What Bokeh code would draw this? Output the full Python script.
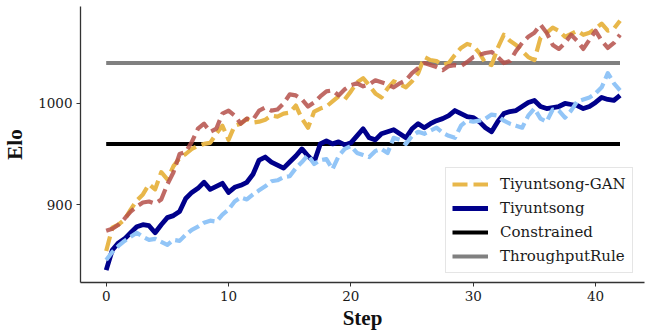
import numpy as np
from bokeh.plotting import figure
from bokeh.models import Range1d, FixedTicker, Legend, LegendItem
from bokeh.embed import file_html
from bokeh.resources import INLINE

# ---------------- data ----------------
steps = np.arange(0, 42.5, 0.5)

tiyuntsong_gan = [
    854, 877, 880, 885, 895, 904, 910, 920, 915, 932,
    925, 938, 946, 950, 955, 958, 960, 961, 970, 978,
    964, 978, 980, 985, 981, 982, 984, 988, 987, 990,
    991, 998, 985, 976, 992, 995, 997, 1002, 1007, 1004,
    1012, 1021, 1025, 1018, 1010, 1006, 1015, 1022, 1019, 1016,
    1022, 1030, 1046, 1043, 1042, 1038, 1040, 1048, 1055, 1059,
    1057, 1050, 1040, 1038, 1055, 1068, 1062, 1058, 1052, 1046,
    1043, 1065, 1070, 1075, 1072, 1066, 1069, 1072, 1068, 1070,
    1074, 1079, 1072, 1074, 1082]

tiyuntsong = [
    835, 855, 862, 866, 872, 878, 880, 879, 872, 880,
    887, 889, 893, 906, 912, 916, 922, 915, 918, 921,
    912, 917, 919, 922, 930, 944, 947, 942, 939, 936,
    942, 948, 955, 948, 942, 960, 963, 960, 962, 959,
    961, 968, 975, 966, 964, 970, 972, 974, 970, 966,
    975, 980, 976, 980, 983, 985, 988, 993, 990, 987,
    986, 982, 976, 972, 982, 990, 992, 993, 997, 1001,
    1003, 997, 995, 996, 997, 1000, 999, 998, 995, 997,
    1001, 1006, 1004, 1003, 1008]

gan_opponent = [
    874, 876, 880, 886, 893, 898, 902, 903, 901, 905,
    920, 932, 950, 952, 962, 975, 980, 972, 975, 990,
    993, 988, 980, 985, 984, 993, 996, 993, 994, 1000,
    1009, 1008, 1004, 997, 1001, 1007, 1012, 1013, 1008, 1014,
    1018, 1020, 1017, 1019, 1023, 1021, 1019, 1016, 1020, 1023,
    1030, 1035, 1040, 1038, 1036, 1033, 1037, 1038, 1037, 1041,
    1046, 1048, 1050, 1051, 1046, 1040, 1042, 1052, 1060, 1066,
    1070, 1078, 1070, 1058, 1054, 1060, 1068, 1062, 1054, 1063,
    1072, 1062, 1055, 1060, 1068]

tiyuntsong_opponent = [
    845, 853, 859, 864, 868, 872, 868, 865, 866, 863,
    860, 865, 864, 870, 875, 878, 882, 884, 883, 890,
    895, 903, 907, 905, 910, 914, 918, 923, 924, 927,
    928, 936, 942, 949, 940, 944, 945, 935, 948, 955,
    958, 951, 949, 947, 953, 955, 951, 966, 964, 960,
    968, 972, 970, 973, 976, 971, 968, 966, 978, 983,
    982, 983, 985, 989, 988, 983, 980, 978, 976, 988,
    995, 985, 982, 994, 993, 986, 993, 1002, 1004, 1006,
    1010, 1016, 1030, 1020, 1013]

constrained_elo = 960
throughput_elo = 1040

x_ticks = [0, 10, 20, 30, 40]
y_ticks = [900, 1000]

# ---------------- figure ----------------
TEXT_FONT = "DejaVu Serif"
LABEL_FONT = "Liberation Serif"

p = figure(width=664, height=332, output_backend="svg", toolbar_location=None,
           x_range=Range1d(-2.1, 44.0), y_range=Range1d(822.8, 1096.0),
           min_border_left=79, min_border_right=20, min_border_top=6,
           min_border_bottom=50)
p.outline_line_color = None
p.xgrid.grid_line_color = None
p.ygrid.grid_line_color = None

const_line = p.line(steps, np.full(len(steps), constrained_elo), line_color="black",
                    line_width=4)
thr_line = p.line(steps, np.full(len(steps), throughput_elo), line_color="#808080",
                  line_width=4)

gan_line = p.line(steps, tiyuntsong_gan, line_color="#E8B74A", line_width=4.2,
                  line_dash="15 6", line_join="round")
tiy_line = p.line(steps, tiyuntsong, line_color="#00008B", line_width=4.8,
                  line_join="round")
p.line(steps, gan_opponent, line_color="#B5504A", line_alpha=0.85, line_width=4.2,
       line_dash="15 6", line_join="round")
p.line(steps, tiyuntsong_opponent, line_color="#92C5F7", line_width=4.2,
       line_dash="12 5", line_join="round")

xa = p.xaxis[0]
ya = p.yaxis[0]
for ax in (xa, ya):
    ax.axis_line_color = "#333333"
    ax.axis_line_width = 1.3
    ax.major_tick_line_color = "#333333"
    ax.major_tick_out = 4
    ax.major_tick_in = 0
    ax.minor_tick_line_color = None
    ax.major_label_text_font = TEXT_FONT
    ax.major_label_text_font_size = "13.5px"
    ax.major_label_text_color = "#1a1a1a"
    ax.axis_label_text_font = LABEL_FONT
    ax.axis_label_text_font_size = "21px"
    ax.axis_label_text_font_style = "bold"
    ax.axis_label_text_color = "#111111"

xa.ticker = FixedTicker(ticks=x_ticks)
ya.ticker = FixedTicker(ticks=y_ticks)
xa.axis_label = "Step"
ya.axis_label = "Elo"
xa.major_label_standoff = 4
xa.axis_label_standoff = 2
ya.major_label_standoff = 4
ya.axis_label_standoff = 8

legend = Legend(items=[
    LegendItem(label="Tiyuntsong-GAN", renderers=[gan_line]),
    LegendItem(label="Tiyuntsong", renderers=[tiy_line]),
    LegendItem(label="Constrained", renderers=[const_line]),
    LegendItem(label="ThroughputRule", renderers=[thr_line]),
], location=(365, 9))
legend.label_text_font = TEXT_FONT
legend.label_text_font_size = "15px"
legend.label_text_color = "#1a1a1a"
legend.glyph_width = 36
legend.glyph_height = 20
legend.label_height = 20
legend.spacing = 4
legend.padding = 6
legend.margin = 0
legend.label_standoff = 12
legend.border_line_color = "#cccccc"
legend.border_line_width = 1
legend.background_fill_alpha = 0.8
p.add_layout(legend, "center")

open("out.html", "w").write(file_html(p, INLINE))
